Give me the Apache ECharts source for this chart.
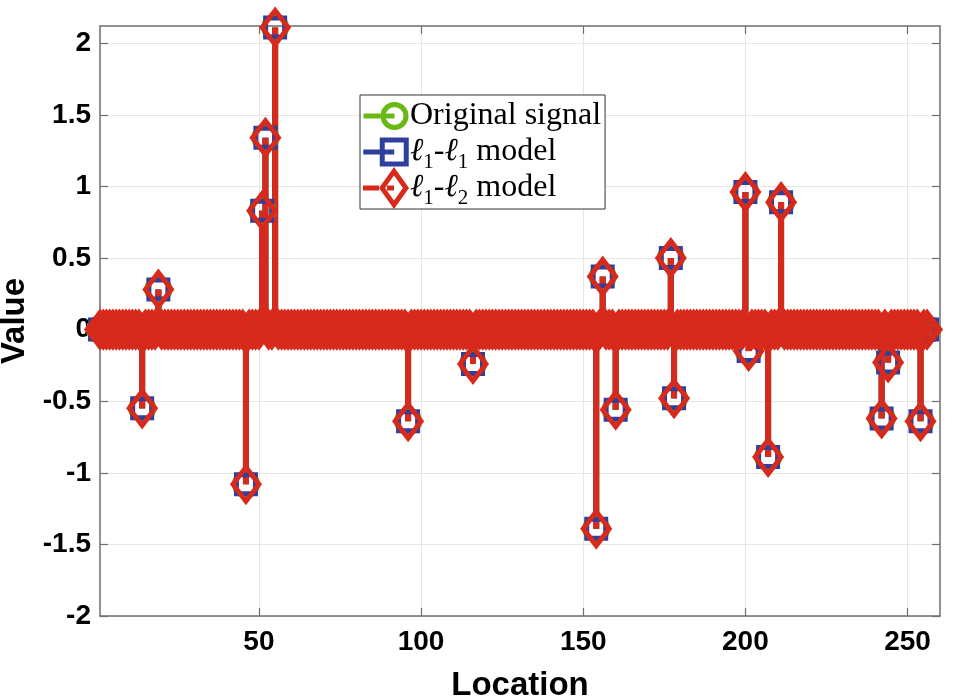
<!DOCTYPE html>
<html>
<head>
<meta charset="utf-8">
<script src="https://cdn.jsdelivr.net/npm/echarts@6/dist/echarts.min.js"></script>
<style>html,body{margin:0;padding:0;background:#fff}#c{width:959px;height:696px}</style>
</head>
<body>
<div id="c"></div>
<script>
// ---- data ----
const signalLength = 256;
const spikeLocations = [14, 19, 46, 51, 52, 55, 96, 116, 154, 156, 160, 177, 178, 200, 201, 207, 211, 242, 244, 254];
const originalValues = [-0.55, 0.28, -1.08, 0.83, 1.34, 2.11, -0.64, -0.24, -1.39, 0.37, -0.56, 0.50, -0.48, 0.96, -0.15, -0.89, 0.89, -0.62, -0.23, -0.64];
const l1l1Values    = [-0.55, 0.28, -1.08, 0.83, 1.34, 2.11, -0.64, -0.24, -1.39, 0.37, -0.56, 0.50, -0.48, 0.96, -0.15, -0.89, 0.89, -0.62, -0.23, -0.64];
const l1l2Values    = [-0.55, 0.28, -1.08, 0.83, 1.34, 2.11, -0.64, -0.24, -1.39, 0.37, -0.56, 0.50, -0.48, 0.96, -0.15, -0.89, 0.89, -0.62, -0.23, -0.64];
const seriesNames = ['Original signal', 'l1-l1 model', 'l1-l2 model'];
const xTickValues = [50, 100, 150, 200, 250];
const yTickValues = [-2, -1.5, -1, -0.5, 0, 0.5, 1, 1.5, 2];

function fullSignal(values) {
  const out = [];
  for (let i = 1; i <= signalLength; i++) {
    const k = spikeLocations.indexOf(i);
    out.push([i, k >= 0 ? values[k] : 0]);
  }
  return out;
}
const dataOrig = fullSignal(originalValues);
const dataL11 = fullSignal(l1l1Values);
const dataL12 = fullSignal(l1l2Values);

const GREEN = '#68b914', BLUE = '#2d409e', RED = '#d72a1c';
const AXIS = '#6e6e6e';
const tickFont = {fontFamily: 'Liberation Sans, Arial, sans-serif', fontWeight: 'bold', fontSize: 28, color: '#000'};

// legend icons (line + hollow marker); the lone move-to points pad each icon to a common 46x42 box
const circleIcon = 'path://M31,-7Z M31,35Z M0,11.5L17,11.5L17,16.5L0,16.5Z M17,14A14,14 0 1,1 45,14A14,14 0 1,1 17,14Z M22,14A9,9 0 1,0 40,14A9,9 0 1,0 22,14Z M22,11.5L31,11.5L31,16.5L22,16.5Z';
const squareIcon = 'path://M31,-6.5Z M31,35.5Z M0,12L16.5,12L16.5,17L0,17Z M16.5,0L45.5,0L45.5,29L16.5,29Z M21.5,5L21.5,24L40.5,24L40.5,5Z M21.5,12L31,12L31,17L21.5,17Z';
const diamondIcon = 'path://M0,18.5L16,18.5L16,23.5L0,23.5Z M31,0L46,21L31,42L16,21Z M31,8.6L22.1,21L31,33.4L39.9,21Z M24,18.5L31,18.5L31,23.5L24,23.5Z';

function stem(name, data, color) {
  return {name: name + ' stem', type: 'bar', data: data, barWidth: 6, barGap: '-100%',
    itemStyle: {color: color}, silent: true, legendHoverLink: false};
}
function marks(name, data, color, symbol, size) {
  return {name: name, type: 'scatter', data: data, symbol: symbol, symbolSize: size, clip: false,
    itemStyle: {color: 'rgba(255,255,255,0)', borderColor: color, borderWidth: 5, opacity: 1},
    emphasis: {disabled: true}, silent: true};
}

const legendLabels = {
  'Original signal': '{r|Original signal}',
  'l1-l1 model': '{l|ℓ}{s|1}{r|-}{l|ℓ}{s|1}{r| model}',
  'l1-l2 model': '{l|ℓ}{s|1}{r|-}{l|ℓ}{s|2}{r| model}'
};
const serif = 'Liberation Serif, Times New Roman, DejaVu Serif, serif';

const option = {
  animation: false,
  backgroundColor: '#fff',
  grid: {left: 100, right: 19, top: 26, bottom: 80, containLabel: false, outerBoundsMode: 'none'},
  legend: {
    orient: 'vertical', left: 360, top: 95,
    padding: [0, 4, 0, 3], itemGap: -6, itemWidth: 46, itemHeight: 42,
    backgroundColor: '#fff', borderColor: '#333', borderWidth: 1,
    selectedMode: false,
    data: [
      {name: seriesNames[0], icon: circleIcon, itemStyle: {color: GREEN, borderWidth: 0}},
      {name: seriesNames[1], icon: squareIcon, itemStyle: {color: BLUE, borderWidth: 0}},
      {name: seriesNames[2], icon: diamondIcon, itemStyle: {color: RED, borderWidth: 0}}
    ],
    formatter: function (n) { return legendLabels[n]; },
    textStyle: {
      padding: [0, 0, 0, -4],
      rich: {
        r: {fontFamily: serif, fontSize: 32, lineHeight: 42, color: '#000'},
        l: {fontFamily: serif, fontSize: 32, lineHeight: 42, fontStyle: 'italic', color: '#000'},
        s: {fontFamily: serif, fontSize: 21, lineHeight: 29, verticalAlign: 'bottom', color: '#000'}
      }
    }
  },
  xAxis: [
    {type: 'value', min: 1, max: 260, position: 'bottom',
      name: 'Location', nameLocation: 'middle', nameGap: 53,
      nameTextStyle: {fontFamily: 'Liberation Sans, Arial, sans-serif', fontWeight: 'bold', fontSize: 33, color: '#000'},
      axisLine: {show: true, onZero: false, lineStyle: {color: AXIS, width: 1.5}},
      axisTick: {show: true, inside: true, length: 8, customValues: xTickValues, lineStyle: {color: AXIS, width: 1.2}},
      axisLabel: Object.assign({show: true, margin: 12, customValues: xTickValues}, tickFont),
      splitLine: {show: true, lineStyle: {color: '#e6e6e6', width: 1}}},
    {type: 'value', min: 1, max: 260, position: 'top',
      axisLine: {show: true, onZero: false, lineStyle: {color: AXIS, width: 1.5}},
      axisTick: {show: true, inside: true, length: 8, customValues: xTickValues, lineStyle: {color: AXIS, width: 1.2}},
      axisLabel: {show: false}, splitLine: {show: false}}
  ],
  yAxis: [
    {type: 'value', min: -2, max: 2.12, position: 'left',
      name: 'Value', nameLocation: 'middle', nameGap: 65,
      nameTextStyle: {fontFamily: 'Liberation Sans, Arial, sans-serif', fontWeight: 'bold', fontSize: 33, color: '#000'},
      axisLine: {show: true, onZero: false, lineStyle: {color: AXIS, width: 1.5}},
      axisTick: {show: true, inside: true, length: 8, customValues: yTickValues, lineStyle: {color: AXIS, width: 1.2}},
      axisLabel: Object.assign({show: true, margin: 9, customValues: yTickValues}, tickFont),
      splitLine: {show: true, lineStyle: {color: '#e6e6e6', width: 1}}},
    {type: 'value', min: -2, max: 2.12, position: 'right',
      axisLine: {show: true, onZero: false, lineStyle: {color: AXIS, width: 1.5}},
      axisTick: {show: true, inside: true, length: 8, customValues: yTickValues, lineStyle: {color: AXIS, width: 1.2}},
      axisLabel: {show: false}, splitLine: {show: false}}
  ],
  series: [
    stem(seriesNames[0], dataOrig, GREEN),
    marks(seriesNames[0], dataOrig, GREEN, 'circle', 23),
    stem(seriesNames[1], dataL11, BLUE),
    marks(seriesNames[1], dataL11, BLUE, 'rect', 19),
    stem(seriesNames[2], dataL12, RED),
    marks(seriesNames[2], dataL12, RED, 'diamond', [26, 34])
  ]
};
const chart = echarts.init(document.getElementById('c'), null, {renderer: 'canvas'});
chart.setOption(option);
</script>
</body>
</html>
